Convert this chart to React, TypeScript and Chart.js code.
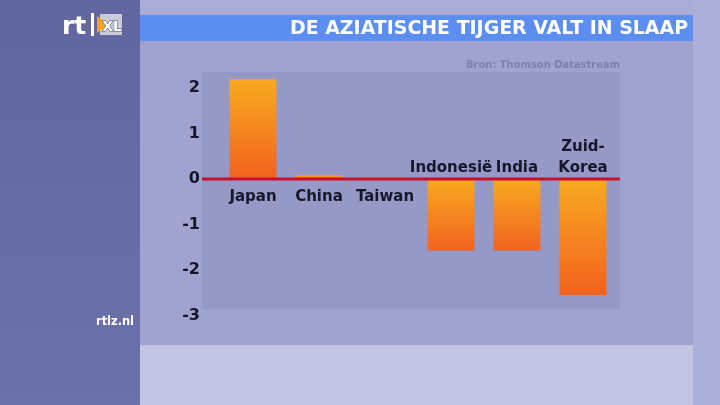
import React, { useEffect, useRef } from 'react';
import { Chart, registerables } from 'chart.js';

Chart.register(...registerables);

const categories = ['Japan', 'China', 'Taiwan', 'Indonesië', 'India', 'Zuid-Korea'];
const categoryLines = [['Japan'], ['China'], ['Taiwan'], ['Indonesië'], ['India'], ['Zuid-', 'Korea']];
const values = [2.19, 0.08, 0.03, -1.57, -1.57, -2.55];
const yTicks = [-3, -2, -1, 0, 1, 2];
const titleText = 'DE AZIATISCHE TIJGER VALT IN SLAAP';
const sourceText = 'Bron: Thomson Datastream';
const siteText = 'rtlz.nl';

const FONT = '"DejaVu Sans", "Liberation Sans", sans-serif';

const backgroundPlugin = {
  id: 'tvBackground',
  beforeDraw(chart: any) {
    const ctx = chart.ctx as CanvasRenderingContext2D;
    const W = chart.width;
    const H = chart.height;
    const area = chart.chartArea;
    const yScale = chart.scales.y;
    ctx.save();
    // main background
    ctx.fillStyle = '#a0a3cf';
    ctx.fillRect(0, 0, W, H);
    // top band
    ctx.fillStyle = '#a9acd5';
    ctx.fillRect(140, 0, W - 140, 15);
    // left panel
    const lg = ctx.createLinearGradient(0, 0, 0, H);
    lg.addColorStop(0, '#62669f');
    lg.addColorStop(1, '#6d71aa');
    ctx.fillStyle = lg;
    ctx.fillRect(0, 0, 140, H);
    // right strip
    ctx.fillStyle = '#acafd7';
    ctx.fillRect(693, 0, W - 693, H);
    // title bar
    ctx.fillStyle = '#5b8ef0';
    ctx.fillRect(140, 15, 553, 26);
    // bottom strip
    ctx.fillStyle = '#c3c5e3';
    ctx.fillRect(140, 345, 553, H - 345);
    // plot rectangle
    const rectBottom = yScale.getPixelForValue(-2.86);
    ctx.fillStyle = '#9698c6';
    ctx.fillRect(area.left - 18, area.top, area.right - area.left + 22, rectBottom - area.top);

    // title text
    ctx.fillStyle = '#ffffff';
    ctx.font = 'bold 19px ' + FONT;
    ctx.textAlign = 'right';
    ctx.textBaseline = 'middle';
    ctx.fillText(titleText, 688, 29, 398);

    // source
    ctx.fillStyle = '#7d80b0';
    ctx.font = 'bold 10px ' + FONT;
    ctx.fillText(sourceText, 620, 65, 154);

    // site
    ctx.fillStyle = '#ffffff';
    ctx.font = 'bold 12px ' + FONT;
    ctx.textAlign = 'left';
    ctx.fillText(siteText, 96, 322, 38);

    // logo
    ctx.fillStyle = '#ffffff';
    ctx.font = 'bold 25px ' + FONT;
    ctx.textBaseline = 'alphabetic';
    ctx.fillText('rt', 62, 34);
    ctx.fillRect(91, 13, 3, 23);
    ctx.fillStyle = '#c9cbd8';
    ctx.fillRect(100, 14, 22, 21);
    ctx.fillStyle = '#f5a623';
    ctx.beginPath();
    ctx.moveTo(97, 16);
    ctx.lineTo(108, 24.5);
    ctx.lineTo(97, 33);
    ctx.closePath();
    ctx.fill();
    ctx.fillStyle = '#ffffff';
    ctx.strokeStyle = '#4a4d70';
    ctx.lineWidth = 1;
    ctx.font = 'bold 14px ' + FONT;
    ctx.textAlign = 'right';
    ctx.strokeText('XL', 122, 31);
    ctx.fillText('XL', 122, 31);
    ctx.restore();
  },
};

const overlayPlugin = {
  id: 'zeroAndLabels',
  afterDatasetsDraw(chart: any) {
    const ctx = chart.ctx as CanvasRenderingContext2D;
    const area = chart.chartArea;
    const yScale = chart.scales.y;
    const zero = yScale.getPixelForValue(0);
    ctx.save();
    ctx.strokeStyle = '#c8102e';
    ctx.lineWidth = 3;
    ctx.beginPath();
    ctx.moveTo(area.left - 18, zero);
    ctx.lineTo(area.right + 4, zero);
    ctx.stroke();

    const meta = chart.getDatasetMeta(0);
    ctx.fillStyle = '#17172c';
    ctx.font = 'bold 15px ' + FONT;
    ctx.textAlign = 'center';
    ctx.textBaseline = 'middle';
    meta.data.forEach((el: any, i: number) => {
      const lines = categoryLines[i];
      const v = values[i];
      if (v >= 0) {
        lines.forEach((t, k) => ctx.fillText(t, el.x, zero + 18 + k * 21));
      } else {
        const n = lines.length;
        lines.forEach((t, k) => ctx.fillText(t, el.x, zero - 11 - (n - 1 - k) * 21));
      }
    });
    ctx.restore();
  },
};

export default function App() {
  const canvasRef = useRef<HTMLCanvasElement | null>(null);

  useEffect(() => {
    if (!canvasRef.current) return;
    const chart = new Chart(canvasRef.current, {
      type: 'bar',
      data: {
        labels: categories,
        datasets: [
          {
            data: values,
            borderWidth: 0,
            categoryPercentage: 1,
            barPercentage: 0.71,
            backgroundColor: (c: any) => {
              const ch = c.chart;
              const ys = ch.scales && ch.scales.y;
              if (!ys || c.type !== 'data') return '#f5891f';
              const v = c.raw as number;
              const p0 = ys.getPixelForValue(0);
              const p1 = ys.getPixelForValue(v);
              const top = Math.min(p0, p1);
              const bot = Math.max(p0, p1);
              if (!isFinite(top) || !isFinite(bot) || bot - top < 1) return '#f39020';
              const g = ch.ctx.createLinearGradient(0, top, 0, bot);
              g.addColorStop(0, '#f8aa20');
              g.addColorStop(1, '#f2621f');
              return g;
            },
          },
        ],
      },
      options: {
        responsive: false,
        animation: false,
        devicePixelRatio: 1,
        layout: { padding: { left: 0, top: 72, right: 104, bottom: 89.5 } },
        plugins: { legend: { display: false }, tooltip: { enabled: false } },
        scales: {
          x: { display: false, offset: true },
          y: {
            min: -3,
            max: 2.35,
            grid: { display: false, drawTicks: false },
            border: { display: false },
            afterBuildTicks: (scale: any) => {
              scale.ticks = yTicks.map((v) => ({ value: v }));
            },
            afterFit: (scale: any) => {
              scale.width = 220;
            },
            ticks: {
              padding: 20,
              color: '#16162b',
              font: { family: FONT, size: 16, weight: 'bold' },
              callback: (v: any) => String(v),
            },
          },
        },
      },
      plugins: [backgroundPlugin, overlayPlugin],
    });
    return () => chart.destroy();
  }, []);

  return (
    <div style={{ position: 'absolute', left: 0, top: 0, width: 720, height: 405 }}>
      <canvas ref={canvasRef} width={720} height={405} style={{ width: 720, height: 405, display: 'block' }} />
    </div>
  );
}
